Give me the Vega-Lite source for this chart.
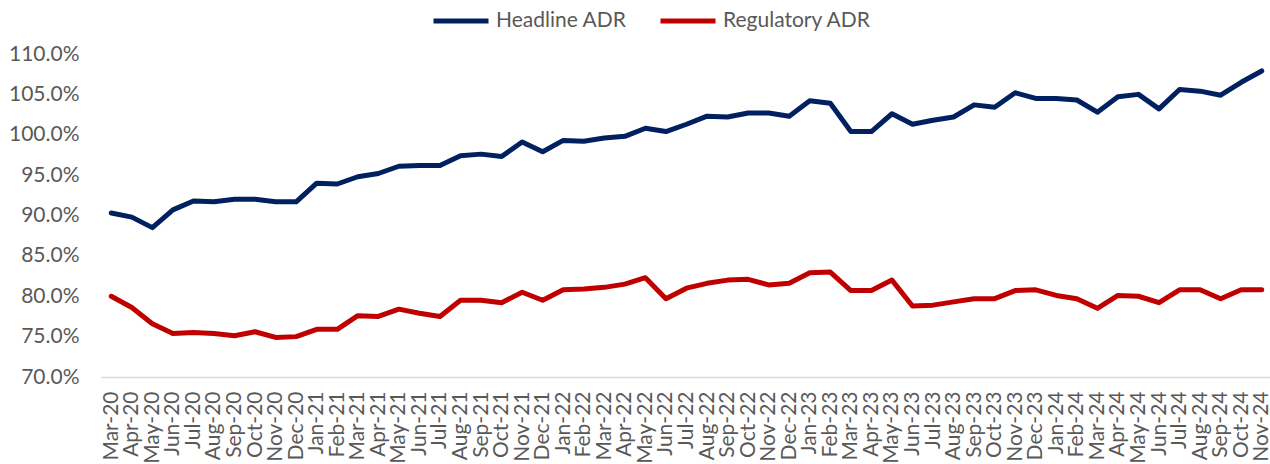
{
  "$schema": "https://vega.github.io/schema/vega-lite/v6.json",
  "autosize": {"type": "none"},
  "padding": {"left": 101, "top": 54, "right": 0, "bottom": 87},
  "width": 1171,
  "height": 323,
  "background": "white",
  "config": {
    "view": {"stroke": null},
    "font": "Lato",
    "axis": {"labelFont": "Lato", "labelColor": "#595959", "labelFontSize": 21, "grid": false, "ticks": false, "title": null},
    "legend": {"labelFont": "Lato", "labelColor": "#595959", "labelFontSize": 21}
  },
  "data": {
    "values": [
      {"month": "Mar-20", "Headline ADR": 0.903, "Regulatory ADR": 0.800},
      {"month": "Apr-20", "Headline ADR": 0.898, "Regulatory ADR": 0.786},
      {"month": "May-20", "Headline ADR": 0.885, "Regulatory ADR": 0.766},
      {"month": "Jun-20", "Headline ADR": 0.907, "Regulatory ADR": 0.754},
      {"month": "Jul-20", "Headline ADR": 0.918, "Regulatory ADR": 0.755},
      {"month": "Aug-20", "Headline ADR": 0.917, "Regulatory ADR": 0.754},
      {"month": "Sep-20", "Headline ADR": 0.920, "Regulatory ADR": 0.751},
      {"month": "Oct-20", "Headline ADR": 0.920, "Regulatory ADR": 0.756},
      {"month": "Nov-20", "Headline ADR": 0.917, "Regulatory ADR": 0.749},
      {"month": "Dec-20", "Headline ADR": 0.917, "Regulatory ADR": 0.750},
      {"month": "Jan-21", "Headline ADR": 0.940, "Regulatory ADR": 0.759},
      {"month": "Feb-21", "Headline ADR": 0.939, "Regulatory ADR": 0.759},
      {"month": "Mar-21", "Headline ADR": 0.948, "Regulatory ADR": 0.776},
      {"month": "Apr-21", "Headline ADR": 0.952, "Regulatory ADR": 0.775},
      {"month": "May-21", "Headline ADR": 0.961, "Regulatory ADR": 0.784},
      {"month": "Jun-21", "Headline ADR": 0.962, "Regulatory ADR": 0.779},
      {"month": "Jul-21", "Headline ADR": 0.962, "Regulatory ADR": 0.775},
      {"month": "Aug-21", "Headline ADR": 0.974, "Regulatory ADR": 0.795},
      {"month": "Sep-21", "Headline ADR": 0.976, "Regulatory ADR": 0.795},
      {"month": "Oct-21", "Headline ADR": 0.973, "Regulatory ADR": 0.792},
      {"month": "Nov-21", "Headline ADR": 0.991, "Regulatory ADR": 0.805},
      {"month": "Dec-21", "Headline ADR": 0.979, "Regulatory ADR": 0.795},
      {"month": "Jan-22", "Headline ADR": 0.993, "Regulatory ADR": 0.808},
      {"month": "Feb-22", "Headline ADR": 0.992, "Regulatory ADR": 0.809},
      {"month": "Mar-22", "Headline ADR": 0.996, "Regulatory ADR": 0.811},
      {"month": "Apr-22", "Headline ADR": 0.998, "Regulatory ADR": 0.815},
      {"month": "May-22", "Headline ADR": 1.008, "Regulatory ADR": 0.823},
      {"month": "Jun-22", "Headline ADR": 1.004, "Regulatory ADR": 0.797},
      {"month": "Jul-22", "Headline ADR": 1.013, "Regulatory ADR": 0.810},
      {"month": "Aug-22", "Headline ADR": 1.023, "Regulatory ADR": 0.816},
      {"month": "Sep-22", "Headline ADR": 1.022, "Regulatory ADR": 0.820},
      {"month": "Oct-22", "Headline ADR": 1.027, "Regulatory ADR": 0.821},
      {"month": "Nov-22", "Headline ADR": 1.027, "Regulatory ADR": 0.814},
      {"month": "Dec-22", "Headline ADR": 1.023, "Regulatory ADR": 0.816},
      {"month": "Jan-23", "Headline ADR": 1.042, "Regulatory ADR": 0.829},
      {"month": "Feb-23", "Headline ADR": 1.039, "Regulatory ADR": 0.830},
      {"month": "Mar-23", "Headline ADR": 1.004, "Regulatory ADR": 0.807},
      {"month": "Apr-23", "Headline ADR": 1.004, "Regulatory ADR": 0.807},
      {"month": "May-23", "Headline ADR": 1.026, "Regulatory ADR": 0.820},
      {"month": "Jun-23", "Headline ADR": 1.013, "Regulatory ADR": 0.788},
      {"month": "Jul-23", "Headline ADR": 1.018, "Regulatory ADR": 0.789},
      {"month": "Aug-23", "Headline ADR": 1.022, "Regulatory ADR": 0.793},
      {"month": "Sep-23", "Headline ADR": 1.037, "Regulatory ADR": 0.797},
      {"month": "Oct-23", "Headline ADR": 1.034, "Regulatory ADR": 0.797},
      {"month": "Nov-23", "Headline ADR": 1.052, "Regulatory ADR": 0.807},
      {"month": "Dec-23", "Headline ADR": 1.045, "Regulatory ADR": 0.808},
      {"month": "Jan-24", "Headline ADR": 1.045, "Regulatory ADR": 0.801},
      {"month": "Feb-24", "Headline ADR": 1.043, "Regulatory ADR": 0.797},
      {"month": "Mar-24", "Headline ADR": 1.028, "Regulatory ADR": 0.785},
      {"month": "Apr-24", "Headline ADR": 1.047, "Regulatory ADR": 0.801},
      {"month": "May-24", "Headline ADR": 1.050, "Regulatory ADR": 0.800},
      {"month": "Jun-24", "Headline ADR": 1.032, "Regulatory ADR": 0.792},
      {"month": "Jul-24", "Headline ADR": 1.056, "Regulatory ADR": 0.808},
      {"month": "Aug-24", "Headline ADR": 1.054, "Regulatory ADR": 0.808},
      {"month": "Sep-24", "Headline ADR": 1.049, "Regulatory ADR": 0.797},
      {"month": "Oct-24", "Headline ADR": 1.065, "Regulatory ADR": 0.808},
      {"month": "Nov-24", "Headline ADR": 1.079, "Regulatory ADR": 0.808}
    ]
  },
  "transform": [{"fold": ["Headline ADR", "Regulatory ADR"], "as": ["series", "value"]}],
  "mark": {"type": "line", "strokeWidth": 5, "strokeJoin": "round", "strokeCap": "round"},
  "encoding": {
    "x": {
      "field": "month", "type": "ordinal", "sort": null,
      "scale": {"type": "point", "padding": 0.5},
      "axis": {"labelAngle": -90, "labelPadding": 14, "domainColor": "#d9d9d9", "domainWidth": 1.5}
    },
    "y": {
      "field": "value", "type": "quantitative",
      "scale": {"domain": [0.70, 1.10], "nice": false, "zero": false},
      "axis": {"format": ".1%", "values": [0.70, 0.75, 0.80, 0.85, 0.90, 0.95, 1.00, 1.05, 1.10], "domain": false, "labelPadding": 22}
    },
    "color": {
      "field": "series", "type": "nominal",
      "scale": {"domain": ["Headline ADR", "Regulatory ADR"], "range": ["#002060", "#C00000"]},
      "legend": {"title": null, "orient": "none", "direction": "horizontal", "legendX": 330, "legendY": -63, "symbolType": "stroke", "symbolSize": 3025, "symbolStrokeWidth": 5, "labelOffset": 5, "columnPadding": 23}
    }
  }
}
